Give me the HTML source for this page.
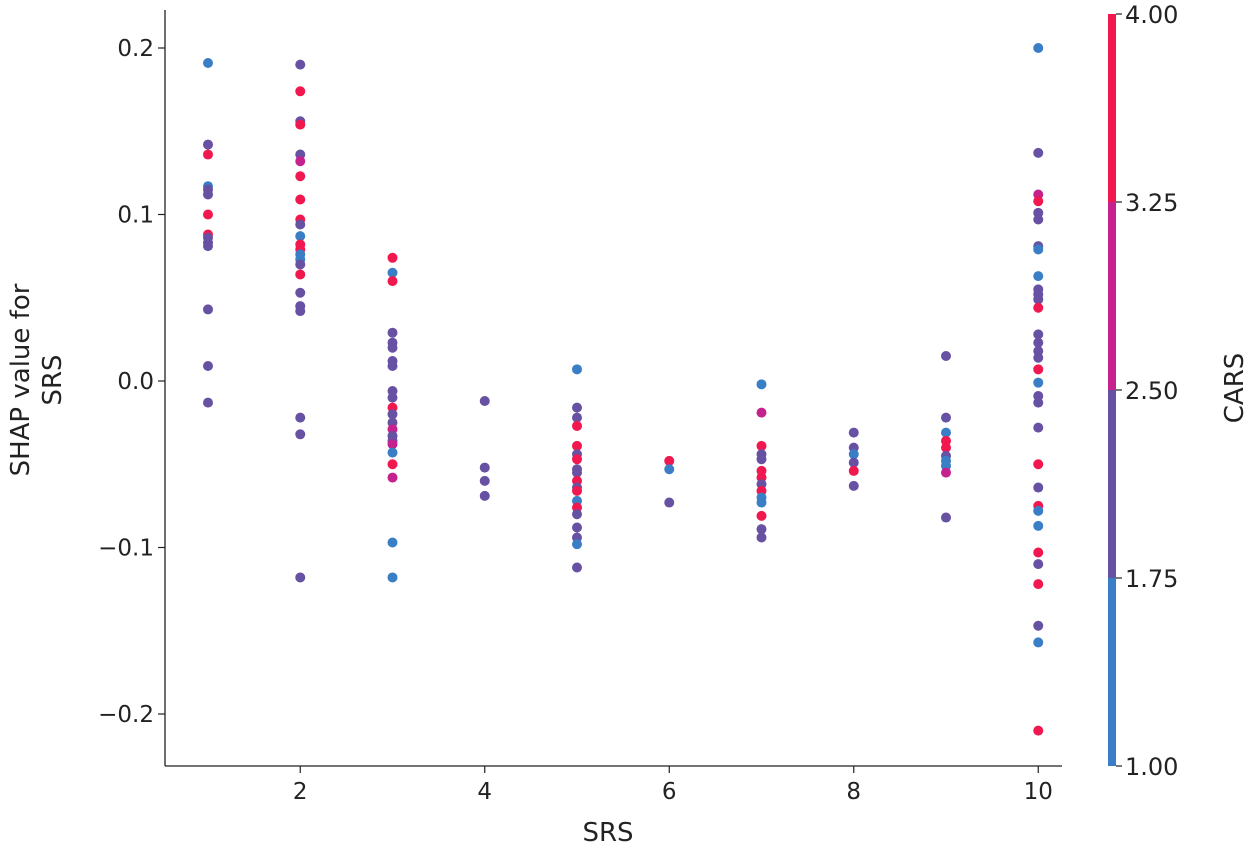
<!DOCTYPE html>
<html><head><meta charset="utf-8"><style>
body{margin:0;background:#fff;}
svg text{font-family:"DejaVu Sans","Liberation Sans",sans-serif;fill:#222;}
</style></head><body>
<svg id="chart" width="1255" height="849" xmlns="http://www.w3.org/2000/svg">
<g id="plot"></g>
<g id="axes"></g>
<g id="cbar"></g>
<text x="608" y="841" font-size="26" text-anchor="middle">SRS</text>
<text transform="translate(29,380) rotate(-90)" font-size="26" text-anchor="middle"><tspan x="0" y="0">SHAP value for</tspan><tspan x="0" y="32">SRS</tspan></text>
<text transform="translate(1243,388) rotate(-90)" font-size="26" text-anchor="middle">CARS</text>
</svg>
<script>
const srs = [1,1,1,1,1,1,1,1,1,1,1,1,1,1,
2,2,2,2,2,2,2,2,2,2,2,2,2,2,2,2,2,2,2,2,2,2,2,
3,3,3,3,3,3,3,3,3,3,3,3,3,3,3,3,3,3,3,3,3,3,
4,4,4,4,
5,5,5,5,5,5,5,5,5,5,5,5,5,5,5,5,5,5,5,
6,6,6,
7,7,7,7,7,7,7,7,7,7,7,7,7,7,
8,8,8,8,8,8,
9,9,9,9,9,9,9,9,9,9,
10,10,10,10,10,10,10,10,10,10,10,10,10,10,10,10,10,10,10,10,10,10,10,10,10,10,10,10,10,10,10,10,10];
const shap = [0.191,0.142,0.136,0.117,0.115,0.112,0.100,0.088,0.086,0.083,0.081,0.043,0.009,-0.013,
0.190,0.174,0.156,0.154,0.136,0.132,0.123,0.109,0.097,0.094,0.087,0.082,0.079,0.076,0.073,0.070,0.064,0.053,0.045,0.042,-0.022,-0.032,-0.118,
0.074,0.065,0.060,0.029,0.023,0.020,0.012,0.009,-0.006,-0.010,-0.016,-0.020,-0.025,-0.029,-0.033,-0.036,-0.038,-0.043,-0.050,-0.058,-0.097,-0.118,
-0.012,-0.052,-0.060,-0.069,
0.007,-0.016,-0.022,-0.027,-0.039,-0.044,-0.047,-0.053,-0.055,-0.060,-0.064,-0.066,-0.072,-0.076,-0.080,-0.088,-0.094,-0.098,-0.112,
-0.048,-0.053,-0.073,
-0.002,-0.019,-0.039,-0.044,-0.047,-0.054,-0.058,-0.062,-0.066,-0.070,-0.073,-0.081,-0.089,-0.094,
-0.031,-0.040,-0.044,-0.049,-0.054,-0.063,
0.015,-0.022,-0.031,-0.036,-0.040,-0.045,-0.048,-0.051,-0.055,-0.082,
0.200,0.137,0.112,0.108,0.101,0.097,0.081,0.079,0.063,0.055,0.052,0.049,0.044,0.028,0.023,0.018,0.014,0.007,-0.001,-0.009,-0.013,-0.028,-0.050,-0.064,-0.075,-0.078,-0.087,-0.103,-0.110,-0.122,-0.147,-0.157,-0.210];
const cars = [1.5,2,4,1.5,2,2,4,4,2,2,2,2,2,2,
2,4,2,4,2,3,4,4,4,2,1.5,4,4,1.5,1.5,2,4,2,2,2,2,2,2,
4,1.5,4,2,2,2,2,2,2,2,4,2,2,3,2,2,3,1.5,4,3,1.5,1.5,
2,2,2,2,
1.5,2,2,4,4,2,4,2,2,4,2,4,1.5,4,2,2,2,1.5,2,
4,1.5,2,
1.5,3,4,2,2,4,4,2,4,1.5,1.5,4,2,2,
2,2,1.5,2,4,2,
2,2,1.5,4,4,2,1.5,1.5,3,2,
1.5,2,3,4,2,2,2,1.5,1.5,2,2,2,4,2,2,2,2,4,1.5,2,2,2,4,2,4,1.5,1.5,4,2,4,2,1.5,4];
const xTicks = [2,4,6,8,10];
const yTicks = [0.2,0.1,0.0,-0.1,-0.2];
const yTickLabels = ["0.2","0.1","0.0","\u22120.1","\u22120.2"];
const cbTicks = [4.00,3.25,2.50,1.75,1.00];
const cbColors = ["#3a7fc6","#6651a3","#c5228e","#f0184f"];

const NS="http://www.w3.org/2000/svg";
const xS = v => 208 + (v-1)*92.25;
const yS = v => 381 - v*1665;
const cbY = v => 766 - (v-1)/3*752;
function colorOf(c){ const i=Math.min(3,Math.max(0,Math.floor((c-1)/0.75))); return cbColors[i]; }
function mk(tag, attrs, parent){ const e=document.createElementNS(NS,tag); for(const k in attrs) e.setAttribute(k,attrs[k]); parent.appendChild(e); return e; }

const plot=document.getElementById('plot');
const n=Math.min(srs.length,shap.length,cars.length);
for(let i=0;i<n;i++){
  const c=mk('circle',{cx:xS(srs[i]),cy:yS(shap[i]),r:5,fill:colorOf(cars[i])},plot);
  
  
}
const axes=document.getElementById('axes');
const yl=mk('line',{x1:165,y1:10,x2:165,y2:766,stroke:'#222','stroke-width':1.3},axes);


const xl=mk('line',{x1:165,y1:766,x2:1062,y2:766,stroke:'#222','stroke-width':1.3},axes);


xTicks.forEach(t=>{
  mk('line',{x1:xS(t),y1:766,x2:xS(t),y2:773,stroke:'#222','stroke-width':1.2},axes);
  const tx=mk('text',{x:xS(t),y:799,'font-size':23,'text-anchor':'middle'},axes);
  tx.textContent=t;
  
  
});
yTicks.forEach((t,i)=>{
  mk('line',{x1:158,y1:yS(t),x2:165,y2:yS(t),stroke:'#222','stroke-width':1.2},axes);
  const tx=mk('text',{x:154,y:yS(t)+8,'font-size':23,'text-anchor':'end'},axes);
  tx.textContent=yTickLabels[i];
  
  
});
const cb=document.getElementById('cbar');
for(let i=0;i<4;i++){
  const r=mk('rect',{x:1108,y:cbY(1+(i+1)*0.75),width:8,height:cbY(1+i*0.75)-cbY(1+(i+1)*0.75),fill:cbColors[i]},cb);
  
  
}
cbTicks.forEach(t=>{
  mk('line',{x1:1116,y1:cbY(t),x2:1122,y2:cbY(t),stroke:'#222','stroke-width':1.2},cb);
  const tx=mk('text',{x:1125,y:cbY(t)+9,'font-size':24},cb);
  tx.textContent=t.toFixed(2);
  
  
});
</script>
</body></html>
